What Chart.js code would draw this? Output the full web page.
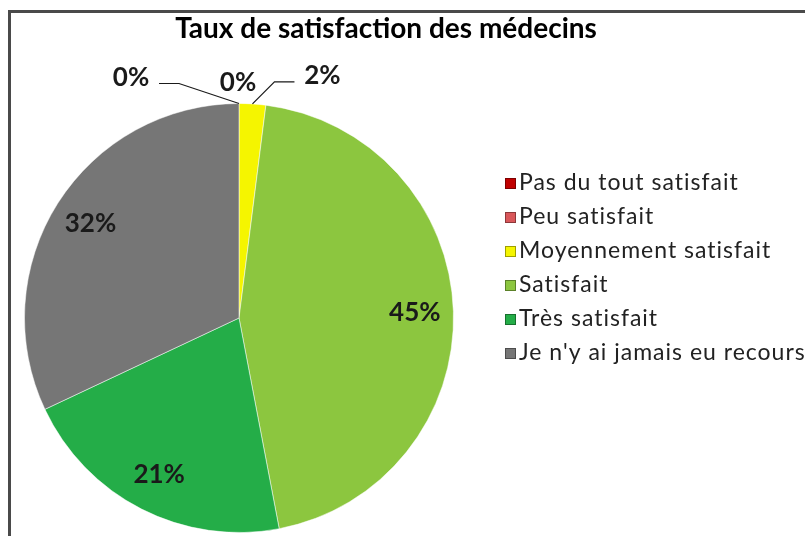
<!DOCTYPE html>
<html>
<head>
<meta charset="utf-8">
<script src="https://cdn.jsdelivr.net/npm/chart.js@4"></script>
<style>
    html, body { margin: 0; padding: 0; background: #fff; overflow: hidden; }
    #frame {
        position: absolute; left: 8px; top: 10px; width: 900px; height: 700px;
        border-left: 3px solid #4a4a4a; border-top: 3px solid #4a4a4a;
    }
    #wrap { position: absolute; left: 0; top: 0; width: 805px; height: 536px; }
</style>
</head>
<body>
<div id="frame"></div>
<div id="wrap"><canvas id="satisfactionChart" width="805" height="536"></canvas></div>
<script>
const categories = [
    'Pas du tout satisfait',
    'Peu satisfait',
    'Moyennement satisfait',
    'Satisfait',
    'Très satisfait',
    "Je n'y ai jamais eu recours"
];
const percentValues = [0, 0, 2, 45, 21, 32];
const sliceColors = ['#c00000', '#d9575a', '#f5f500', '#8cc63f', '#24ad48', '#767676'];
const chartTitle = 'Taux de satisfaction des médecins';

// label placement per slice: offset from the slice's outer edge point, and whether a leader line is drawn
const labelOffsets = [
    { dx: -108, dy: -26, leader: true },
    { dx: -1, dy: -21, leader: false },
    { dx: 70, dy: -28, leader: true },
    null, null, null
];

const decorPlugin = {
    id: 'decor',
    afterDatasetsDraw(chart) {
        const ctx = chart.ctx;
        const arcs = chart.getDatasetMeta(0).data;
        ctx.save();
        ctx.fillStyle = '#1a1a1a';
        ctx.strokeStyle = '#1a1a1a';
        ctx.font = 'bold 26px Lato, sans-serif';
        ctx.textAlign = 'center';
        ctx.textBaseline = 'middle';
        arcs.forEach((arc, i) => {
            const label = percentValues[i] + '%';
            const off = labelOffsets[i];
            const mid = (arc.startAngle + arc.endAngle) / 2;
            if (off) {
                const ex = arc.x + Math.cos(mid) * arc.outerRadius;
                const ey = arc.y + Math.sin(mid) * arc.outerRadius;
                const lx = ex + off.dx;
                const ly = ey + off.dy;
                if (off.leader) {
                    ctx.lineWidth = 1.2;
                    ctx.beginPath();
                    ctx.moveTo(ex, ey);
                    const side = off.dx < 0 ? 1 : -1;
                    ctx.lineTo(lx + side * 48, ly + 6);
                    ctx.lineTo(lx + side * 28, ly + 6);
                    ctx.stroke();
                }
                ctx.fillText(label, lx, ly);
            } else {
                const r = arc.outerRadius * 0.82;
                ctx.fillText(label, arc.x + Math.cos(mid) * r, arc.y + Math.sin(mid) * r);
            }
        });

        // title
        ctx.font = 'bold 28px Lato, sans-serif';
        ctx.fillStyle = '#000';
        ctx.fillText(chartTitle, 386, 29);

        // legend
        ctx.textAlign = 'left';
        ctx.font = '23px Lato, sans-serif';
        ctx.letterSpacing = '1px';
        categories.forEach((name, i) => {
            const y = 183 + i * 34;
            ctx.fillStyle = sliceColors[i];
            ctx.fillRect(505, y - 5, 11, 11);
            ctx.strokeStyle = 'rgba(0,0,0,0.35)';
            ctx.lineWidth = 1;
            ctx.strokeRect(505.5, y - 4.5, 10, 10);
            ctx.fillStyle = '#222';
            ctx.fillText(name, 519, y);
        });
        ctx.restore();
    }
};

const ctx = document.getElementById('satisfactionChart').getContext('2d');
new Chart(ctx, {
    type: 'pie',
    data: {
        labels: categories,
        datasets: [{
            data: percentValues,
            backgroundColor: sliceColors,
            borderColor: 'rgba(255,255,255,0.5)',
            borderWidth: 1
        }]
    },
    options: {
        responsive: false,
        animation: false,
        layout: {
            padding: { top: 103, bottom: 3, left: 24, right: 351 }
        },
        plugins: {
            legend: { display: false },
            tooltip: { enabled: false }
        }
    },
    plugins: [decorPlugin]
});
</script>
</body>
</html>
